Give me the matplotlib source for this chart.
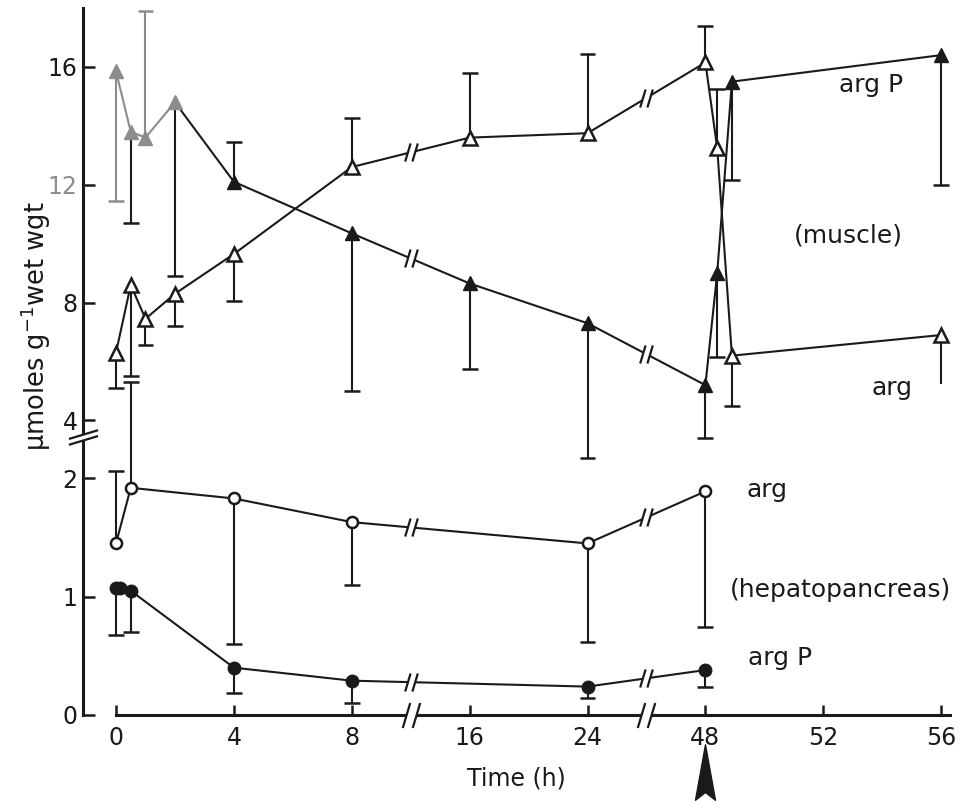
import numpy as np
import matplotlib
matplotlib.use("Agg")
import matplotlib.pyplot as plt
from matplotlib.path import Path

plt.rcParams['font.family'] = ['DejaVu Sans']

# ---- data ----
# muscle, arg P (filled triangles)
t_mus = [0, 0.5, 1, 2, 4, 8, 16, 24, 48, 48.4, 48.9, 56]
argP_mus = [15.85, 13.8, 13.6, 14.8, 12.1, 10.35, 8.65, 7.3, 5.2, 9.0, 15.5, 16.4]
argP_mus_bar = [11.45, 10.7, 17.9, 8.9, 13.45, 5.0, 5.75, 2.7, 3.4, 6.15, 12.15, 12.0]
# muscle, arg (open triangles)
arg_mus = [6.3, 8.6, 7.45, 8.3, 9.65, 12.6, 13.6, 13.75, 16.15, 13.25, 6.2, 6.9]
arg_mus_bar = [5.1, 5.5, 6.55, 7.2, 8.05, 14.25, 15.8, 16.45, 17.4, 15.25, 4.5, 5.25]

# hepatopancreas, arg (open circles)
t_hep_arg = [0, 0.5, 4, 8, 24, 48]
arg_hep = [1.45, 1.92, 1.83, 1.63, 1.45, 1.89]
arg_hep_bar = [2.26, 5.3, 0.6, 1.1, 0.62, 0.74]
# hepatopancreas, arg P (filled circles)
t_hep_argP = [0, 0.15, 0.5, 4, 8, 24, 48]
argP_hep = [1.07, 1.07, 1.05, 0.40, 0.29, 0.24, 0.38]
argP_hep_bar = [0.68, np.nan, 0.70, 0.19, 0.10, 0.14, 0.24]

x_ticks = [0, 4, 8, 16, 24, 48, 52, 56]
y_ticks = [0, 1, 2, 4, 8, 12, 16]
x_breaks = [(8, 16), (24, 48)]
y_break = (2, 4)

# ---- broken-axis scales ----
XB = [-20, 0, 8, 16, 24, 48, 56, 80]
XP = [-20, 0, 8, 12, 16, 20, 28, 52]
YB = [-10, 0, 2, 4, 16, 40]
YP = [-10, 0, 2, 2.489, 5.477, 11.45]

def fx(x):
    return np.interp(x, XB, XP)

def fxi(p):
    return np.interp(p, XP, XB)

def fy(y):
    return np.interp(y, YB, YP)

def fyi(p):
    return np.interp(p, YP, YB)

fig = plt.figure(figsize=(9.68, 8.01), dpi=100)
ax = fig.add_axes([83/968, 86/801, 867/968, 707/801])
ax.set_xscale('function', functions=(fx, fxi))
ax.set_yscale('function', functions=(fy, fyi))
ax.set_xlim(-1.12, 56.3)
ax.set_ylim(0, 18)

ink = '#1a1a1a'
grey = '#8c8c8c'
lw = 1.5


def bars(t, v, end, colors=None, cap=True):
    t = np.asarray(t, float)
    end = np.asarray(end, float)
    ok = ~np.isnan(end)
    cols = colors if colors is not None else [ink] * len(t)
    cols = [c for c, k in zip(cols, ok) if k]
    ax.vlines(t[ok], np.asarray(v)[ok], end[ok], colors=cols, lw=lw, zorder=2)
    if cap:
        ax.scatter(t[ok], end[ok], marker='_', s=130, c=cols, linewidths=lw + 0.3, zorder=2)


# muscle arg P: first points faded in the scan
mcol = [grey, grey, grey, grey] + [ink] * 8
bars(t_mus, argP_mus, argP_mus_bar, colors=[grey, ink, grey, ink] + [ink] * 8)
ax.plot(t_mus[:4], argP_mus[:4], color=grey, lw=lw, zorder=2)
ax.plot(t_mus[3:], argP_mus[3:], color=ink, lw=lw, zorder=2)
for t, v, c in zip(t_mus, argP_mus, mcol):
    ax.plot(t, v, marker='^', ms=10, color=c, mec=c, ls='none', zorder=3)

# muscle arg
bars(t_mus[:-1], arg_mus[:-1], arg_mus_bar[:-1])
bars(t_mus[-1:], arg_mus[-1:], arg_mus_bar[-1:], cap=False)
ax.plot(t_mus, arg_mus, color=ink, lw=lw, marker='^', ms=10, mfc='white',
        mec=ink, mew=1.8, zorder=3)

# hepatopancreas
bars(t_hep_arg, arg_hep, arg_hep_bar)
ax.plot(t_hep_arg, arg_hep, color=ink, lw=lw, marker='o', ms=8, mfc='white',
        mec=ink, mew=1.8, zorder=3)
bars(t_hep_argP, argP_hep, argP_hep_bar)
ax.plot(t_hep_argP, argP_hep, color=ink, lw=lw, marker='o', ms=9, mfc=ink,
        mec=ink, zorder=3)

# ---- break marks ----
MV, LT = Path.MOVETO, Path.LINETO
slash = Path([(-0.7, -1), (-0.1, 1), (0.1, -1), (0.7, 1)], [MV, LT, MV, LT])
slash_gap = Path([(-0.7, -1), (0.1, -1), (0.7, 1), (-0.1, 1), (-0.7, -1)],
                 [MV, LT, LT, LT, Path.CLOSEPOLY])
hslash = Path([(-1, -0.5), (1, 0.1), (-1, -0.1), (1, 0.5)], [MV, LT, MV, LT])
hslash_gap = Path([(-1, -0.5), (1, 0.1), (1, 0.5), (-1, -0.1), (-1, -0.5)],
                  [MV, LT, LT, LT, Path.CLOSEPOLY])


def brk(x, y, size, trans=None, path=slash, gap=slash_gap):
    kw = dict(ls='none', clip_on=False, zorder=5)
    if trans is not None:
        kw['transform'] = trans
    ax.plot(x, y, marker=gap, ms=size, mfc='white', mec='none', **kw)
    ax.plot(x, y, marker=path, ms=size, mfc='none', mec=ink, mew=1.6, **kw)


series = [(t_mus, argP_mus), (t_mus, arg_mus),
          (t_hep_arg, arg_hep), (t_hep_argP, argP_hep)]
for a, b in x_breaks:
    pm = (fx(a) + fx(b)) / 2
    xm = fxi(pm)
    brk(xm, 0, 18)
    for t, v in series:
        k = int(np.searchsorted(t, 48))
        yp = np.interp(pm, fx(np.asarray(t[:k + 1], float)),
                       fy(np.asarray(v[:k + 1], float)))
        brk(xm, fyi(yp), 13)

ym = fyi(fy(y_break[0]) + 0.72 * (fy(y_break[1]) - fy(y_break[0])))
brk(0, ym, 21, trans=ax.get_yaxis_transform(), path=hslash, gap=hslash_gap)

# arrow under 48 h
arrow = Path([(0, 1), (0.36, -1), (0, -0.72), (-0.36, -1), (0, 1)],
             [MV, LT, LT, LT, Path.CLOSEPOLY])
ax.plot(48, -0.081, marker=arrow, ms=40, color=ink, ls='none', clip_on=False,
        transform=ax.get_xaxis_transform())

# ---- axes styling ----
for s in ['top', 'right']:
    ax.spines[s].set_visible(False)
for s in ['left', 'bottom']:
    ax.spines[s].set_linewidth(2.2)
    ax.spines[s].set_color(ink)
ax.spines['left'].set_bounds(0, 18)
ax.spines['bottom'].set_bounds(0, 56.3)

ax.set_xticks(x_ticks)
ax.set_xticklabels([str(v) for v in x_ticks])
ax.set_yticks(y_ticks)
ax.set_yticklabels([str(v) for v in y_ticks])
ax.minorticks_off()
ax.tick_params(axis='x', direction='in', length=7, width=1.8, pad=8,
               labelsize=17, colors=ink)
ax.tick_params(axis='y', direction='in', length=8.5, width=1.8, pad=4,
               labelsize=17, colors=ink)
for lab in ax.get_yticklabels():
    if lab.get_text() == '12':
        lab.set_color(grey)

ax.set_xlabel('Time (h)', fontsize=17, color=ink, labelpad=12)
fig.text(36/968, 1 - 326/801, 'µmoles g$^{-1}$wet wgt', rotation=90,
         ha='center', va='center', fontsize=18.5, color=ink)

# curve labels
lab_kw = dict(ha='center', va='center', fontsize=18, color=ink)
fig.text(871/968, 1 - 85/801, 'arg P', **lab_kw)
fig.text(848/968, 1 - 236/801, '(muscle)', **lab_kw)
fig.text(892/968, 1 - 388/801, 'arg', **lab_kw)
fig.text(767/968, 1 - 490/801, 'arg', **lab_kw)
fig.text(841/968, 1 - 590/801, '(hepatopancreas)', **lab_kw)
fig.text(780/968, 1 - 658/801, 'arg P', **lab_kw)

fig.savefig('out.png', dpi=100, facecolor='white')
